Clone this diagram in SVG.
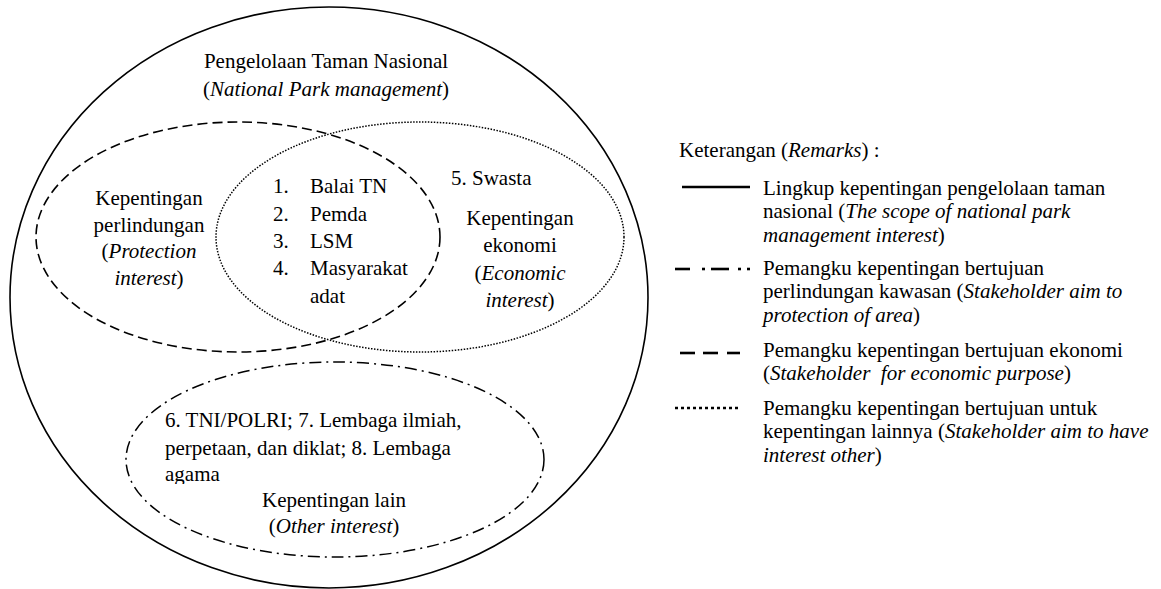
<svg xmlns="http://www.w3.org/2000/svg" width="1161" height="589" viewBox="0 0 1161 589">
<style>
text{font-family:"Liberation Serif","Times New Roman",serif;fill:#000;font-size:21px}
.c{text-anchor:middle}
.i{font-style:italic}
.e{fill:none;stroke:#000}
.solid{stroke-width:1.6}
.dash{stroke-width:1.6;stroke-dasharray:10 5}
.dot{stroke-width:1.5;stroke-dasharray:1.5 1.5}
.dd{stroke-width:1.5;stroke-dasharray:12 5 2 5}
.lg{stroke:#000;stroke-width:2.6;fill:none}
</style>
<defs>
<clipPath id="clipOther"><rect x="100" y="400" width="460" height="84"/></clipPath>
</defs>
<rect width="1161" height="589" fill="#fff"/>
<g id="connectors">
<ellipse id="scope" class="e solid" cx="329" cy="297.5" rx="319" ry="290.5"/>
<ellipse id="protection" class="e dash" cx="238" cy="237" rx="202" ry="115"/>
<ellipse id="economic" class="e dot" cx="420" cy="237" rx="204" ry="115"/>
<ellipse id="other" class="e dd" cx="335" cy="459.5" rx="209" ry="97.5"/>
</g>
<g id="node-title">
<text class="c" x="326" y="68">Pengelolaan Taman Nasional</text>
<text class="c" x="326" y="96">(<tspan class="i">National Park management</tspan>)</text>
</g>
<g id="node-protection">
<text class="c" x="149" y="205">Kepentingan</text>
<text class="c" x="149" y="232">perlindungan</text>
<text class="c" x="149" y="258">(<tspan class="i">Protection</tspan></text>
<text class="c" x="149" y="285"><tspan class="i">interest</tspan>)</text>
</g>
<g id="node-shared">
<text x="273" y="193">1.</text><text x="310" y="193">Balai TN</text>
<text x="273" y="221">2.</text><text x="310" y="221">Pemda</text>
<text x="273" y="248">3.</text><text x="310" y="248">LSM</text>
<text x="273" y="275">4.</text><text x="310" y="275">Masyarakat</text>
<text x="310" y="303">adat</text>
</g>
<g id="node-economic">
<text x="451" y="185">5. Swasta</text>
<text class="c" x="520" y="225">Kepentingan</text>
<text class="c" x="520" y="252">ekonomi</text>
<text class="c" x="520" y="280">(<tspan class="i">Economic</tspan></text>
<text class="c" x="520" y="307"><tspan class="i">interest</tspan>)</text>
</g>
<g id="node-other">
<g clip-path="url(#clipOther)">
<text x="165" y="427">6. TNI/POLRI; 7. Lembaga ilmiah,</text>
<text x="165" y="455">perpetaan, dan diklat; 8. Lembaga</text>
<text x="165" y="481">agama</text>
</g>
<text class="c" x="334" y="507">Kepentingan lain</text>
<text class="c" x="334" y="533">(<tspan class="i">Other interest</tspan>)</text>
</g>
<g id="legend">
<text x="679" y="157">Keterangan (<tspan class="i">Remarks</tspan>) :</text>
<line class="lg" x1="682" y1="187" x2="750" y2="187"/>
<g class="lg">
<line x1="675" y1="269" x2="690" y2="269"/>
<line x1="702" y1="269" x2="705" y2="269"/>
<line x1="711" y1="269" x2="729" y2="269"/>
<line x1="738" y1="269" x2="741" y2="269"/>
<line x1="747" y1="269" x2="750" y2="269"/>
</g>
<g class="lg">
<line x1="680" y1="353" x2="695" y2="353"/>
<line x1="703" y1="353" x2="718" y2="353"/>
<line x1="727" y1="353" x2="740" y2="353"/>
</g>
<line class="lg" x1="675" y1="408" x2="741" y2="408" stroke-dasharray="3 3"/>
<text x="763" y="195">Lingkup kepentingan pengelolaan taman</text>
<text x="763" y="218">nasional (<tspan class="i">The scope of national park</tspan></text>
<text x="763" y="242"><tspan class="i">management interest</tspan>)</text>
<text x="763" y="275">Pemangku kepentingan bertujuan</text>
<text x="763" y="298">perlindungan kawasan (<tspan class="i">Stakeholder aim to</tspan></text>
<text x="763" y="322"><tspan class="i">protection of area</tspan>)</text>
<text x="763" y="357">Pemangku kepentingan bertujuan ekonomi</text>
<text x="763" y="380">(<tspan class="i">Stakeholder&#160; for economic purpose</tspan>)</text>
<text x="763" y="415">Pemangku kepentingan bertujuan untuk</text>
<text x="763" y="438">kepentingan lainnya (<tspan class="i">Stakeholder aim to have</tspan></text>
<text x="763" y="462"><tspan class="i">interest other</tspan>)</text>
</g>
</svg>
